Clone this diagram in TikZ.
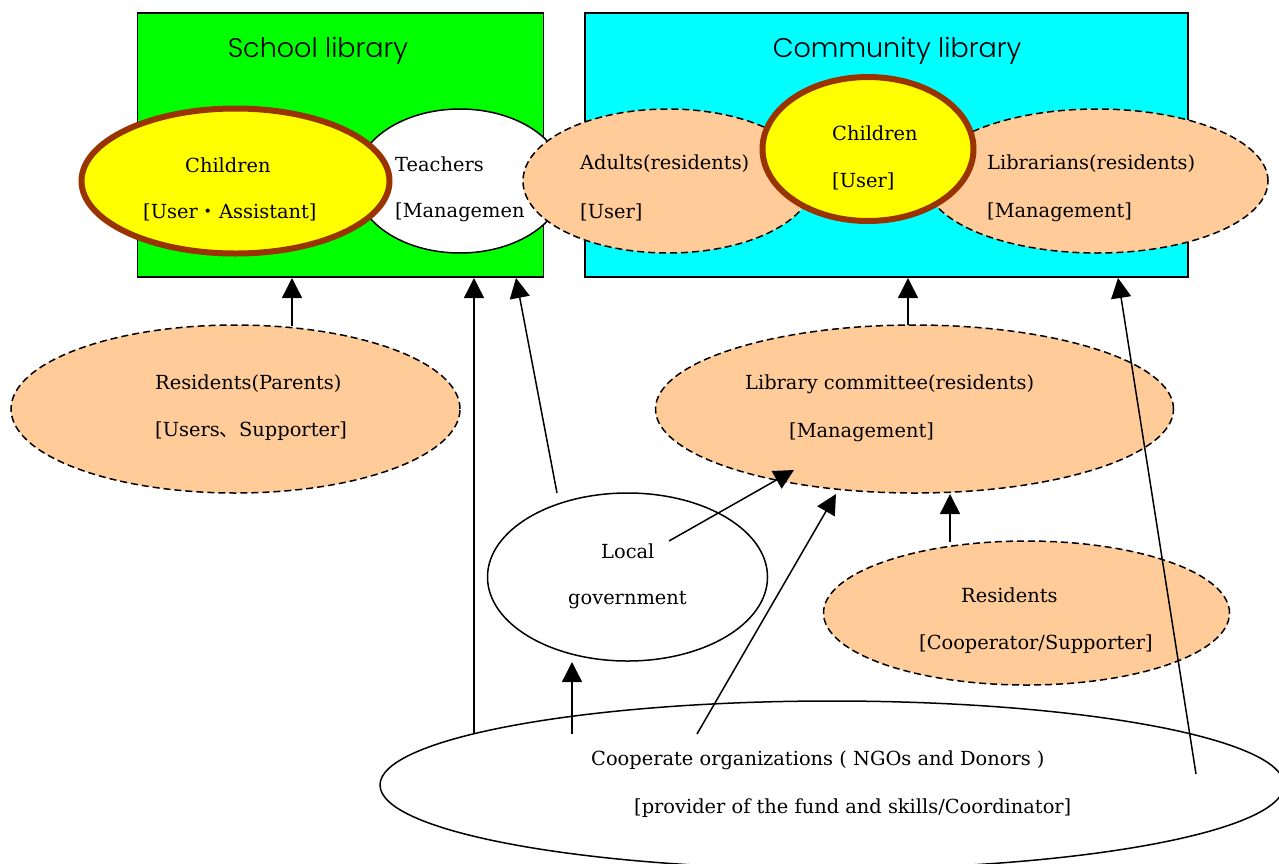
\documentclass[tikz,border=0pt]{standalone}
\usepackage{fontspec}
\setmainfont{DejaVu Serif}
\newfontfamily\headfont{Poppins Light}
\newfontfamily\cjkf{Noto Sans CJK JP}
\usetikzlibrary{arrows.meta,shapes.geometric}
\definecolor{peach}{HTML}{FFCC99}
\definecolor{rim}{HTML}{993300}
\definecolor{lime}{HTML}{00FF00}
\definecolor{aqua}{HTML}{00FFFF}
\definecolor{yel}{HTML}{FFFF00}
\tikzset{x=1pt,y=-1pt,
 box/.style={draw,line width=1.3pt,inner sep=0},
 ell/.style={ellipse,draw,line width=1.5pt,inner sep=0},
 peachell/.style={ell,fill=peach,dash pattern=on 7pt off 4pt},
 yell/.style={ellipse,draw=rim,line width=6pt,fill=yel,inner sep=0},
 lab/.style={font=\fontsize{19.4}{22}\selectfont,anchor=west,inner sep=0},
 head/.style={font=\headfont\fontsize{27}{30}\selectfont,inner sep=0},
 arr/.style={-{Triangle[length=20pt,width=20pt]},line width=1.5pt}}
\begin{document}
\begin{tikzpicture}
\useasboundingbox (0,0) rectangle (1279,863);
\clip (0,0) rectangle (1279,863);
\node[box,fill=lime,minimum width=406pt,minimum height=264pt] (sl) at (340.5,145) {};
\node[box,fill=aqua,minimum width=603pt,minimum height=264pt] (cl) at (886.5,145) {};
\node[head] (slt) at (318,51) {School library};
\node[head] (clt) at (897,51) {Community library};
\node[ell,fill=white,minimum width=210pt,minimum height=144pt] (te) at (460,181) {};
\node[lab] (t1) at (395,164) {Teachers};
\node[lab] (t2) at (395,212) {[Managemen};
\node[peachell,minimum width=290pt,minimum height=144pt] (ad) at (668,181) {};
\node[peachell,minimum width=342pt,minimum height=144pt] (li) at (1097,181) {};
\node[yell,minimum width=308pt,minimum height=145pt] (c1) at (235.5,181) {};
\node[yell,minimum width=211pt,minimum height=144pt] (c2) at (868,149) {};
\node[lab] at (185,165) {Children};
\node[lab] at (143,212) {[User\hspace{1pt}{\cjkf ・}\hspace{1pt}Assistant]};
\node[lab] at (580,164) {Adults(residents)};
\node[lab] at (580,212) {[User]};
\node[lab] at (832,133) {Children};
\node[lab] at (832,181) {[User]};
\node[lab] at (987,164) {Librarians(residents)};
\node[lab] at (987,212) {[Management]};
\node[peachell,minimum width=449pt,minimum height=168pt] (rp) at (235.5,409) {};
\node[lab] at (155,384) {Residents(Parents)};
\node[lab] at (155,431) {[Users{\cjkf 、}Supporter]};
\node[peachell,minimum width=518pt,minimum height=168pt] (lc) at (914.5,409) {};
\node[lab] at (745,384) {Library committee(residents)};
\node[lab] at (789,432) {[Management]};
\node[ell,fill=white,minimum width=280pt,minimum height=168pt] (lg) at (627.5,577) {};
\node[lab] at (601,551) {Local};
\node[lab] at (568,600) {government};
\node[peachell,minimum width=406pt,minimum height=144pt] (re) at (1026.5,613) {};
\node[lab] at (961,595) {Residents};
\node[lab] at (919,644) {[Cooperator/Supporter]};
\node[ell,fill=white,minimum width=904pt,minimum height=168pt] (co) at (832,785) {};
\node[lab] at (591,760) {Cooperate organizations ( NGOs and Donors )};
\node[lab] at (634,808) {[provider of the fund and skills/Coordinator]};
\coordinate (a1) at (292,326); \coordinate (b1) at (292,278);
\coordinate (a2) at (474,733); \coordinate (b2) at (474,278);
\coordinate (a3) at (557,493); \coordinate (b3) at (516,278);
\coordinate (a4) at (908,325); \coordinate (b4) at (908,278);
\coordinate (a5) at (1196,774); \coordinate (b5) at (1118,278);
\coordinate (a6) at (669,541); \coordinate (b6) at (794,470);
\coordinate (a7) at (697,734); \coordinate (b7) at (836,494);
\coordinate (a8) at (950,542); \coordinate (b8) at (950,494);
\coordinate (a9) at (572,734); \coordinate (b9) at (572,662);
\foreach \i in {1,...,9} \draw[arr] (a\i) -- (b\i);
\end{tikzpicture}
\end{document}
